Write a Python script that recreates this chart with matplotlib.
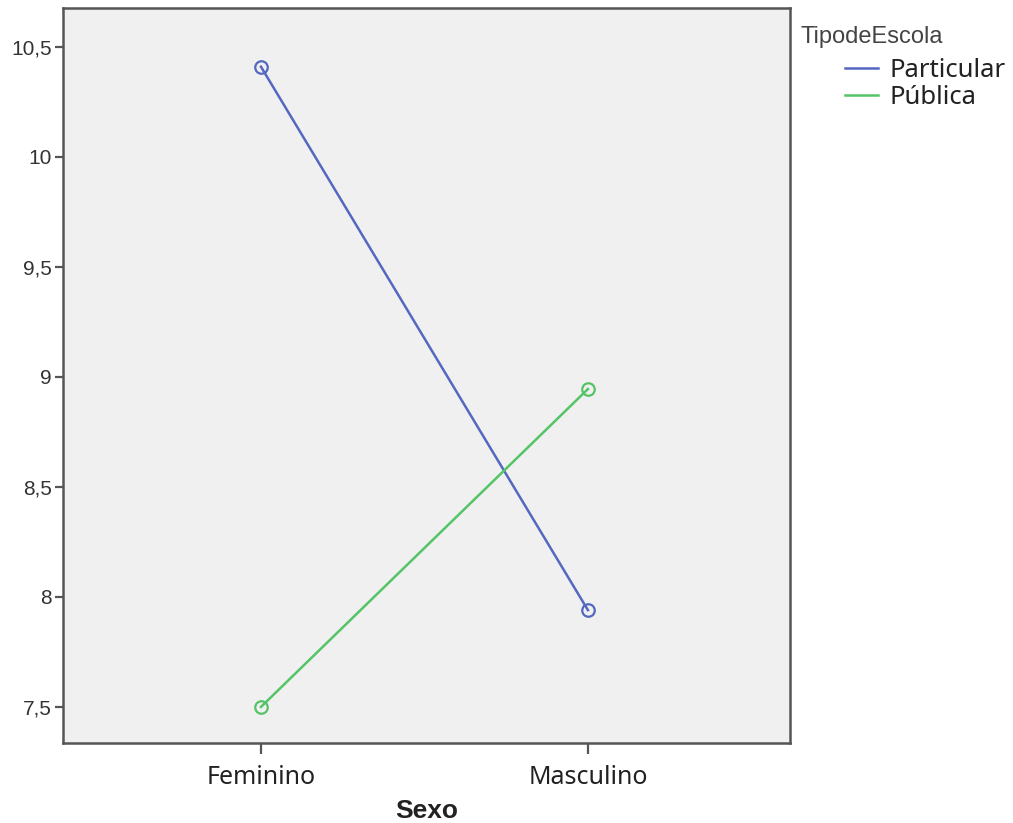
import matplotlib
matplotlib.use("Agg")
import matplotlib.pyplot as plt
from matplotlib.ticker import FixedLocator, FuncFormatter

# ----- Data -----
sexo = ["Feminino", "Masculino"]
tipos = ["Particular", "Pública"]
particular = [10.41, 7.94]
publica = [7.50, 8.945]
y_ticks = [7.5, 8.0, 8.5, 9.0, 9.5, 10.0, 10.5]

colors = {"Particular": "#5468c0", "Pública": "#55c466"}
series = {"Particular": particular, "Pública": publica}

narrow = ["Liberation Sans Narrow", "Liberation Sans", "DejaVu Sans"]
wide = ["Noto Sans", "DejaVu Sans"]

fig = plt.figure(figsize=(10.13, 8.23), dpi=100)
ax = fig.add_axes([63 / 1013, 1 - 743 / 823, (790 - 63) / 1013, (743 - 8) / 823])
ax.set_facecolor("#f0f0f0")

x = list(range(len(sexo)))
handles = []
for name in tipos:
    (ln,) = ax.plot(x, series[name], color=colors[name], lw=1.8,
                    marker="o", ms=9, mfc="none", mec=colors[name], mew=1.6)
    handles.append(ln)

ax.set_xlim(-0.6055, 1.618)
ax.set_ylim(7.336, 10.677)

ax.set_xticks(x)
ax.set_xticklabels(sexo, family=wide, fontsize=18, color="#222222")
ax.yaxis.set_major_locator(FixedLocator(y_ticks))
ax.yaxis.set_major_formatter(FuncFormatter(lambda v, p: f"{v:g}".replace(".", ",")))
for lab in ax.get_yticklabels():
    lab.set_family(narrow)
    lab.set_fontsize(15)
    lab.set_color("#333333")

for sp in ax.spines.values():
    sp.set_color("#555555")
    sp.set_linewidth(1.8)
ax.tick_params(axis="y", length=6, width=1.6, color="#555555", pad=2)
ax.tick_params(axis="x", length=8, width=1.6, color="#555555", pad=8)

ax.set_xlabel("Sexo", family=narrow, fontsize=19, fontweight="bold",
              color="#222222", labelpad=6)

# legend: title as text, entries indented below
fig.text(800 / 1013, 1 - 37 / 823, "TipodeEscola", family=narrow, fontsize=17,
         color="#444444", va="center", ha="left")
leg = fig.legend(handles, tipos, loc="upper left",
                 bbox_to_anchor=(845 / 1013, 1 - 58 / 823),
                 frameon=False, borderpad=0, borderaxespad=0,
                 handlelength=1.3, handletextpad=0.45, labelspacing=0.08,
                 prop={"family": wide, "size": 18.5})
for t in leg.get_texts():
    t.set_color("#222222")
for h in leg.legend_handles:
    h.set_marker("")

fig.savefig("out.png", dpi=100)
